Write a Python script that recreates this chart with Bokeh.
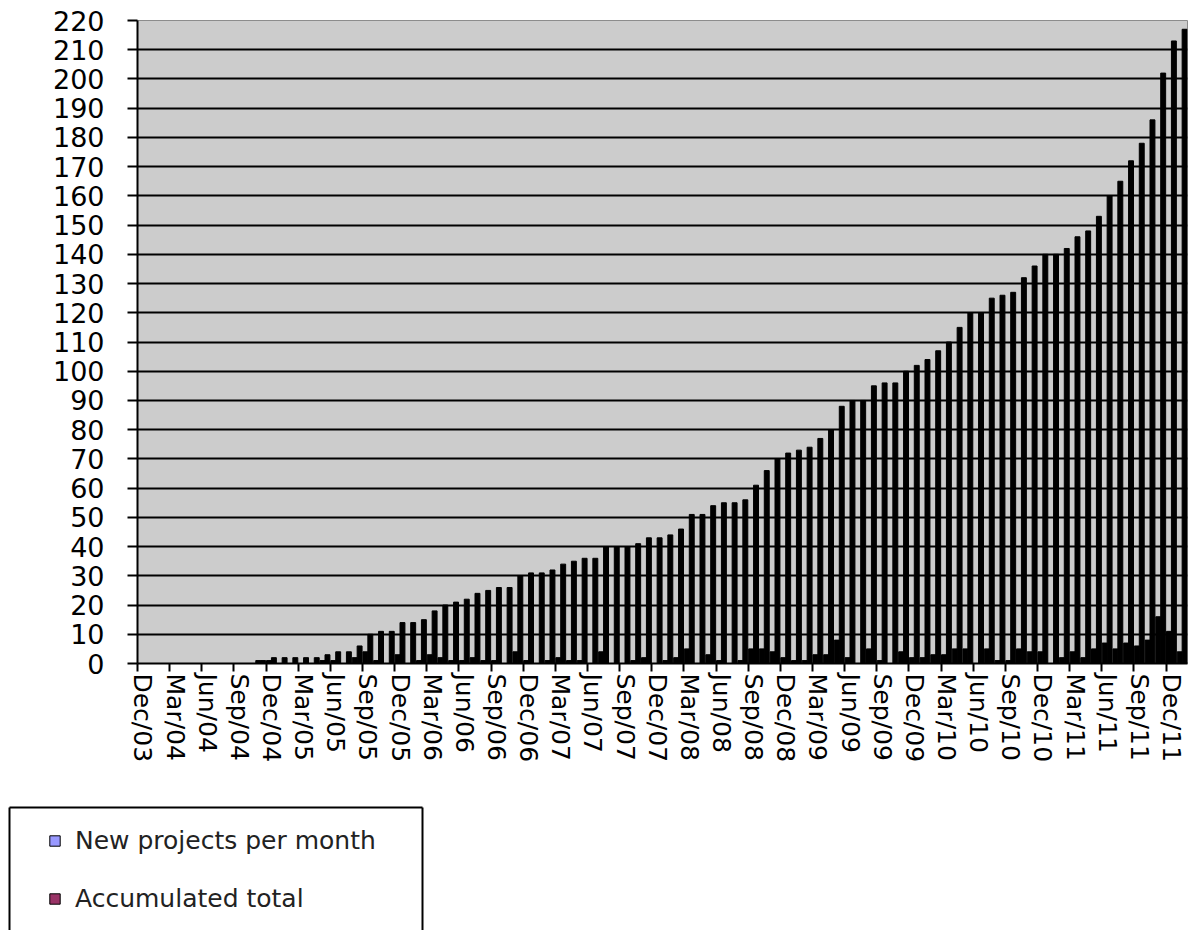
from bokeh.plotting import figure
from bokeh.layouts import column
from bokeh.models import (Range1d, LinearAxis, FixedTicker, Legend, LegendItem,
                          ColumnDataSource)
from bokeh.embed import file_html
from bokeh.resources import INLINE

# ---------------- data ----------------
month_names = ["Jan", "Feb", "Mar", "Apr", "May", "Jun",
               "Jul", "Aug", "Sep", "Oct", "Nov", "Dec"]
months = ["Dec/03"] + [f"{m}/{y:02d}" for y in range(4, 12) for m in month_names] + ["Jan/12"]

accumulated_total = [
    0, 0, 0, 0, 0, 0, 0, 0, 0, 0, 0, 1,            # Dec/03 - Nov/04
    2, 2, 2, 2, 2, 3, 4, 4, 6, 10, 11, 11,         # Dec/04 - Nov/05
    14, 14, 15, 18, 20, 21, 22, 24, 25, 26, 26, 30, # Dec/05 - Nov/06
    31, 31, 32, 34, 35, 36, 36, 40, 40, 40, 41, 43, # Dec/06 - Nov/07
    43, 44, 46, 51, 51, 54, 55, 55, 56, 61, 66, 70, # Dec/07 - Nov/08
    72, 73, 74, 77, 80, 88, 90, 90, 95, 96, 96, 100,  # Dec/08 - Nov/09
    102, 104, 107, 110, 115, 120, 120, 125, 126, 127, 132, 136,  # Dec/09 - Nov/10
    140, 140, 142, 146, 148, 153, 160, 165, 172, 178, 186, 202,  # Dec/10 - Nov/11
    213, 217,                                        # Dec/11 - Jan/12
]

new_per_month = [
    0, 0, 0, 0, 0, 0, 0, 0, 0, 0, 0, 1,
    1, 0, 0, 0, 0, 1, 1, 0, 2, 4, 1, 0,
    3, 0, 1, 3, 2, 1, 1, 2, 1, 1, 0, 4,
    1, 0, 1, 2, 1, 1, 0, 4, 0, 0, 1, 2,
    0, 1, 2, 5, 0, 3, 1, 0, 1, 5, 5, 4,
    2, 1, 1, 3, 3, 8, 2, 0, 5, 1, 0, 4,
    2, 2, 3, 3, 5, 5, 0, 5, 1, 1, 5, 4,
    4, 0, 2, 4, 2, 5, 7, 5, 7, 6, 8, 16,
    11, 4,
]

series_names = ["New projects per month", "Accumulated total"]
legend_colors = ["#9999ff", "#993366"]

y_ticks = list(range(0, 230, 10))
label_step = 3

# ---------------- main chart ----------------
n = len(months)
idx = list(range(n))
bar_w = 0.46
src = ColumnDataSource(dict(
    x_new=[i + 0.5 - bar_w / 2 for i in idx],
    x_acc=[i + 0.5 + bar_w / 2 for i in idx],
    new=new_per_month,
    acc=accumulated_total,
))

p = figure(width=1190, height=806, output_backend="svg", toolbar_location=None,
           x_range=Range1d(0, n), y_range=Range1d(0, 220),
           x_axis_location=None,
           min_border_left=137, min_border_right=3, min_border_top=20,
           min_border_bottom=143)
p.frame_align = False
p.background_fill_color = "#cccccc"
p.border_fill_color = "white"
p.outline_line_color = "#8c8c8c"
p.outline_line_width = 1

p.vbar(x="x_new", top="new", width=bar_w, source=src,
       fill_color="black", line_color="black", line_width=1)
p.vbar(x="x_acc", top="acc", width=bar_w, source=src,
       fill_color="black", line_color="black", line_width=1)

# y axis
p.yaxis.ticker = FixedTicker(ticks=y_ticks)
p.yaxis.major_label_text_font = "DejaVu Sans"
p.yaxis.major_label_text_font_size = "27px"
p.yaxis.major_label_text_color = "black"
p.yaxis.major_label_standoff = 23
p.yaxis.major_tick_out = 10
p.yaxis.major_tick_in = 0
p.yaxis.minor_tick_out = 0
p.yaxis.minor_tick_in = 0
p.yaxis.axis_line_width = 2
p.yaxis.major_tick_line_width = 2
p.ygrid.ticker = FixedTicker(ticks=y_ticks)
p.ygrid.grid_line_color = "black"
p.ygrid.grid_line_width = 2
p.xgrid.grid_line_color = None

# x axis: tick marks at category boundaries
boundaries = list(range(0, n, label_step))
ax_ticks = LinearAxis(ticker=FixedTicker(ticks=boundaries),
                      major_label_overrides={b: "" for b in boundaries},
                      major_label_text_font_size="0px", major_label_standoff=0,
                      major_tick_out=8, major_tick_in=0,
                      minor_tick_out=0, minor_tick_in=0,
                      axis_line_width=2, major_tick_line_width=2,
                      axis_line_color="black", major_tick_line_color="black")
p.add_layout(ax_ticks, "below")

# x axis: labels centred on the labelled category
centers = [i + 0.5 for i in range(0, n, label_step)]
ax_labels = LinearAxis(ticker=FixedTicker(ticks=centers),
                       major_label_overrides={i + 0.5: months[i] for i in range(0, n, label_step)},
                       major_label_orientation="vertical",
                       major_label_text_font="DejaVu Sans",
                       major_label_text_font_size="25px",
                       major_label_text_color="black",
                       major_label_standoff=2,
                       axis_line_color=None, major_tick_line_color=None,
                       minor_tick_line_color=None,
                       major_tick_out=0, major_tick_in=0,
                       minor_tick_out=0, minor_tick_in=0)
p.add_layout(ax_labels, "below")

# ---------------- legend panel ----------------
pl = figure(width=424, height=124, output_backend="svg", toolbar_location=None,
            x_range=Range1d(0, 1), y_range=Range1d(0, 1),
            x_axis_location=None, y_axis_location=None,
            min_border_left=9, min_border_right=2, min_border_top=1,
            min_border_bottom=0)
pl.frame_align = False
pl.outline_line_color = None
pl.background_fill_color = "white"
pl.border_fill_color = "white"
pl.xgrid.visible = False
pl.ygrid.visible = False
for side in ("left", "right", "above"):
    pl.add_layout(LinearAxis(ticker=FixedTicker(ticks=[]),
                             major_label_text_font_size="0px", major_label_standoff=0,
                             major_tick_out=0, major_tick_in=0,
                             minor_tick_out=0, minor_tick_in=0,
                             axis_line_color="black", axis_line_width=2), side)

items = []
for name, col in zip(series_names, legend_colors):
    proxy = ColumnDataSource(dict(x=[-5], top=[0]))   # off-range proxy for the swatch
    r = pl.vbar(x="x", top="top", width=0.4, source=proxy,
                fill_color=col, line_color="black", line_width=1)
    items.append(LegendItem(label=name, renderers=[r]))

legend = Legend(items=items, location=(39, 17),
                label_text_font="DejaVu Sans", label_text_font_size="25px",
                label_text_color="#222222",
                glyph_width=13, glyph_height=13, label_standoff=14,
                padding=0, spacing=29,
                border_line_color=None, background_fill_alpha=0.0)
pl.add_layout(legend, "center")

layout = column(p, pl, spacing=0)
open("out.html", "w").write(file_html(layout, INLINE))
